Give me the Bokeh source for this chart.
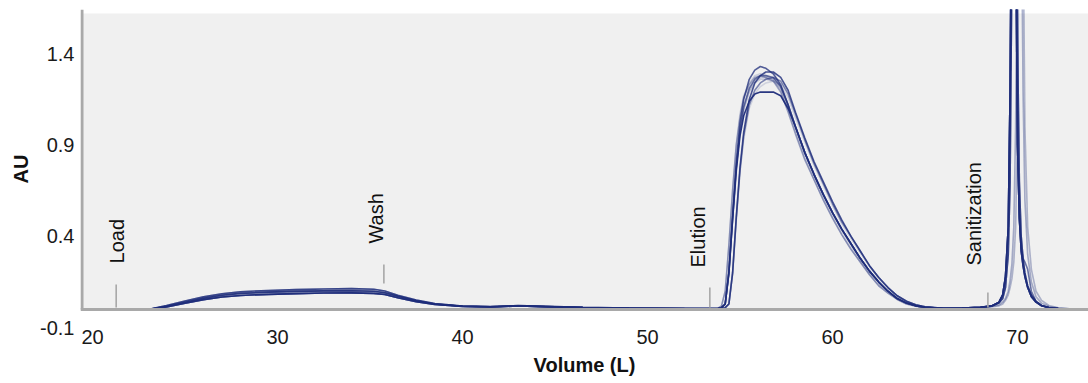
import math
from bokeh.plotting import figure
from bokeh.models import Range1d, FixedTicker, Span, BoxAnnotation
from bokeh.embed import file_html
from bokeh.resources import INLINE
from bokeh.core.properties import value

# ---------------- data ----------------
VOLUME = [
    23.0, 24.0, 25.0, 26.0, 27.0, 28.0, 29.5, 31.0, 32.5, 34.0,
    35.2, 35.8, 36.5, 37.5, 38.5, 40.0, 41.5, 43.0, 44.5, 46.5,
    49.0, 52.0, 53.8, 54.0, 54.2, 54.4, 54.6, 54.8, 55.0, 55.2,
    55.5, 55.8, 56.1, 56.4, 56.8, 57.2, 57.6, 58.0, 58.5, 59.0,
    59.5, 60.0, 60.5, 61.0, 61.5, 62.0, 62.5, 63.0, 63.5, 64.0,
    64.5, 65.0, 66.0, 67.0, 68.0, 68.6, 69.0, 69.2, 69.35, 69.5,
    69.6, 69.7, 69.8, 69.9, 70.0, 70.1, 70.2, 70.3, 70.4, 70.55,
    70.75, 71.0, 71.3, 71.7, 72.2, 72.8,
]

RUN_01 = [
    0.0, 0.014, 0.034, 0.054, 0.068, 0.077, 0.083, 0.087, 0.09, 0.091, 0.088, 0.082, 0.064, 0.043, 0.027, 0.017, 0.014, 0.019, 0.015, 0.01, 0.007, 0.005,
    0.005, 0.01, 0.03, 0.2, 0.49, 0.76, 0.95, 1.06, 1.14, 1.18, 1.19, 1.19, 1.19, 1.17, 1.1, 1.0, 0.86, 0.74, 0.63, 0.53, 0.44, 0.36, 0.28, 0.21, 0.15, 0.1, 0.06, 0.035, 0.02, 0.012, 0.006,
    0.008, 0.012, 0.02, 0.04, 0.08, 0.18, 0.45, 1.2, 2.6, 3.0, 2.2, 0.9, 0.5, 0.32, 0.24, 0.18, 0.12, 0.07, 0.04, 0.02, 0.01, 0.005, 0.003,
]
RUN_02 = [
    0.0, 0.018, 0.04, 0.062, 0.078, 0.088, 0.095, 0.099, 0.102, 0.103, 0.1, 0.092, 0.072, 0.048, 0.03, 0.018, 0.015, 0.02, 0.016, 0.011, 0.008, 0.005,
    0.005, 0.01, 0.03, 0.21, 0.52, 0.81, 1.02, 1.15, 1.26, 1.31, 1.33, 1.32, 1.29, 1.23, 1.12, 1.0, 0.86, 0.74, 0.63, 0.53, 0.44, 0.36, 0.28, 0.21, 0.15, 0.1, 0.06, 0.035, 0.02, 0.012, 0.006,
    0.008, 0.012, 0.018, 0.035, 0.06, 0.12, 0.3, 0.7, 1.9, 2.9, 2.7, 1.5, 0.7, 0.4, 0.28, 0.2, 0.13, 0.08, 0.045, 0.022, 0.011, 0.005, 0.003,
]
RUN_03 = [
    0.0, 0.022, 0.046, 0.069, 0.086, 0.097, 0.104, 0.109, 0.112, 0.114, 0.111, 0.101, 0.078, 0.052, 0.032, 0.019, 0.016, 0.021, 0.017, 0.012, 0.008, 0.005,
    0.004, 0.006, 0.01, 0.03, 0.2, 0.51, 0.78, 0.97, 1.15, 1.24, 1.28, 1.3, 1.3, 1.27, 1.2, 1.08, 0.94, 0.81, 0.7, 0.59, 0.49, 0.4, 0.32, 0.24, 0.175, 0.12, 0.075, 0.045, 0.026, 0.015, 0.007,
    0.008, 0.012, 0.02, 0.04, 0.08, 0.18, 0.45, 1.2, 2.6, 3.0, 2.2, 0.9, 0.5, 0.32, 0.24, 0.18, 0.12, 0.07, 0.04, 0.02, 0.01, 0.005, 0.003,
]
RUN_04 = [
    0.0, 0.018, 0.04, 0.062, 0.078, 0.088, 0.095, 0.099, 0.102, 0.103, 0.1, 0.092, 0.072, 0.048, 0.03, 0.018, 0.015, 0.02, 0.016, 0.011, 0.008, 0.005,
    0.005, 0.01, 0.03, 0.2, 0.5, 0.78, 0.98, 1.11, 1.21, 1.26, 1.28, 1.28, 1.27, 1.22, 1.12, 1.0, 0.86, 0.74, 0.63, 0.53, 0.44, 0.36, 0.28, 0.21, 0.15, 0.1, 0.06, 0.035, 0.02, 0.012, 0.006,
    0.008, 0.012, 0.02, 0.04, 0.08, 0.18, 0.45, 1.2, 2.6, 3.0, 2.2, 0.9, 0.5, 0.34, 0.28, 0.26, 0.22, 0.1, 0.045, 0.022, 0.011, 0.005, 0.003,
]
RUN_05 = [
    0.0, 0.014, 0.034, 0.054, 0.068, 0.077, 0.083, 0.087, 0.09, 0.091, 0.088, 0.082, 0.064, 0.043, 0.027, 0.017, 0.014, 0.019, 0.015, 0.01, 0.007, 0.005,
    0.004, 0.006, 0.01, 0.03, 0.2, 0.5, 0.76, 0.95, 1.12, 1.2, 1.24, 1.26, 1.27, 1.25, 1.18, 1.07, 0.93, 0.8, 0.69, 0.58, 0.48, 0.4, 0.32, 0.24, 0.175, 0.12, 0.075, 0.045, 0.026, 0.015, 0.007,
    0.008, 0.012, 0.018, 0.035, 0.06, 0.12, 0.3, 0.7, 1.9, 2.9, 2.7, 1.5, 0.7, 0.4, 0.28, 0.2, 0.13, 0.08, 0.045, 0.022, 0.011, 0.005, 0.003,
]
RUN_06 = [
    0.0, 0.022, 0.046, 0.069, 0.086, 0.097, 0.104, 0.109, 0.112, 0.114, 0.111, 0.101, 0.078, 0.052, 0.032, 0.019, 0.016, 0.021, 0.017, 0.012, 0.008, 0.005,
    0.005, 0.01, 0.03, 0.2, 0.5, 0.78, 0.97, 1.09, 1.19, 1.24, 1.26, 1.26, 1.25, 1.21, 1.11, 0.99, 0.85, 0.73, 0.62, 0.52, 0.43, 0.35, 0.27, 0.2, 0.145, 0.097, 0.058, 0.034, 0.02, 0.012, 0.006,
    0.008, 0.01, 0.015, 0.02, 0.03, 0.05, 0.08, 0.12, 0.17, 0.26, 0.45, 1.0, 2.4, 3.0, 2.2, 1.0, 0.45, 0.22, 0.1, 0.05, 0.022, 0.01, 0.004,
]
RUN_07 = [
    0.0, 0.018, 0.04, 0.062, 0.078, 0.088, 0.095, 0.099, 0.102, 0.103, 0.1, 0.092, 0.072, 0.048, 0.03, 0.018, 0.015, 0.02, 0.016, 0.011, 0.008, 0.005,
    0.006, 0.02, 0.1, 0.36, 0.66, 0.91, 1.07, 1.17, 1.24, 1.28, 1.29, 1.28, 1.26, 1.2, 1.09, 0.97, 0.83, 0.71, 0.6, 0.5, 0.41, 0.33, 0.26, 0.19, 0.13, 0.09, 0.055, 0.03, 0.018, 0.011, 0.005,
    0.008, 0.01, 0.016, 0.025, 0.04, 0.06, 0.1, 0.16, 0.25, 0.45, 1.0, 2.3, 3.0, 2.4, 1.2, 0.6, 0.3, 0.15, 0.07, 0.035, 0.016, 0.008, 0.004,
]
RUN_08 = [
    0.0, 0.022, 0.046, 0.069, 0.086, 0.097, 0.104, 0.109, 0.112, 0.114, 0.111, 0.101, 0.078, 0.052, 0.032, 0.019, 0.016, 0.021, 0.017, 0.012, 0.008, 0.005,
    0.004, 0.006, 0.01, 0.03, 0.19, 0.49, 0.75, 0.93, 1.1, 1.18, 1.22, 1.24, 1.25, 1.23, 1.16, 1.05, 0.92, 0.79, 0.68, 0.57, 0.47, 0.39, 0.31, 0.235, 0.17, 0.115, 0.072, 0.043, 0.025, 0.014, 0.007,
    0.008, 0.01, 0.015, 0.02, 0.03, 0.05, 0.08, 0.12, 0.17, 0.26, 0.45, 1.0, 2.4, 3.0, 2.2, 1.0, 0.45, 0.22, 0.1, 0.05, 0.022, 0.01, 0.004,
]
RUN_09 = [
    0.0, 0.018, 0.04, 0.062, 0.078, 0.088, 0.095, 0.099, 0.102, 0.103, 0.1, 0.092, 0.072, 0.048, 0.03, 0.018, 0.015, 0.02, 0.016, 0.011, 0.008, 0.005,
    0.005, 0.01, 0.03, 0.2, 0.5, 0.78, 0.98, 1.1, 1.2, 1.25, 1.27, 1.27, 1.26, 1.22, 1.12, 1.0, 0.86, 0.74, 0.63, 0.53, 0.44, 0.36, 0.28, 0.21, 0.15, 0.1, 0.06, 0.035, 0.02, 0.012, 0.006,
    0.008, 0.01, 0.016, 0.025, 0.04, 0.06, 0.1, 0.16, 0.25, 0.45, 1.0, 2.3, 3.0, 2.4, 1.2, 0.6, 0.3, 0.15, 0.07, 0.035, 0.016, 0.008, 0.004,
]
RUN_10 = [
    0.0, 0.014, 0.034, 0.054, 0.068, 0.077, 0.083, 0.087, 0.09, 0.091, 0.088, 0.082, 0.064, 0.043, 0.027, 0.017, 0.014, 0.019, 0.015, 0.01, 0.007, 0.005,
    0.006, 0.02, 0.1, 0.35, 0.65, 0.9, 1.05, 1.16, 1.23, 1.27, 1.28, 1.27, 1.25, 1.19, 1.08, 0.96, 0.82, 0.71, 0.6, 0.5, 0.41, 0.33, 0.26, 0.19, 0.13, 0.09, 0.055, 0.03, 0.018, 0.011, 0.005,
    0.008, 0.012, 0.02, 0.04, 0.08, 0.18, 0.45, 1.2, 2.6, 3.0, 2.2, 0.9, 0.5, 0.32, 0.24, 0.18, 0.12, 0.07, 0.04, 0.02, 0.01, 0.005, 0.003,
]

RUNS = [RUN_01, RUN_02, RUN_03, RUN_04, RUN_05, RUN_06, RUN_07, RUN_08, RUN_09, RUN_10]
RUN_ALPHA = [0.95, 0.75, 0.8, 0.65, 0.55, 0.2, 0.18, 0.15, 0.22, 0.4]

EVENT_NAMES = ["Load", "Wash", "Elution", "Sanitization"]
EVENT_VOLUME = [21.28, 35.75, 53.37, 68.4]
EVENT_TICK_LOW = [0.011, 0.142, 0.011, 0.011]
EVENT_TICK_HIGH = [0.137, 0.246, 0.12, 0.093]
EVENT_LABEL_VOLUME = [21.3, 35.35, 52.73, 67.65]
EVENT_LABEL_AU = [0.252, 0.361, 0.23, 0.241]

X_TICKS = [20, 30, 40, 50, 60, 70]
Y_TICKS = [-0.1, 0.4, 0.9, 1.4]
Y_TICK_LABELS = {-0.1: "-0.1", 0.4: "0.4", 0.9: "0.9", 1.4: "1.4"}
X_START, X_END = 19.351, 73.838
Y_START, Y_END = -0.104, 1.642
PANEL_TOP = 1.62

for r in RUNS:
    assert len(r) == len(VOLUME)

NAVY = "#1d2c7a"
AXIS_GREY = "#a9a9a9"
FONT = "Liberation Sans"

# ---------------- figure ----------------
p = figure(
    width=1088, height=383,
    x_range=Range1d(X_START, X_END), y_range=Range1d(Y_START, Y_END),
    output_backend="svg", toolbar_location=None,
    min_border_left=80, min_border_right=0, min_border_top=9, min_border_bottom=55,
    background_fill_color="white", border_fill_color="white",
    outline_line_color=None,
)
p.grid.visible = False

# grey plotting panel above zero
p.add_layout(BoxAnnotation(bottom=0, top=PANEL_TOP, fill_color="#f0f0f0", fill_alpha=1.0,
                           line_color=None, level="underlay"))

for ax in (p.xaxis[0], p.yaxis[0]):
    ax.axis_line_color = None
    ax.major_tick_line_color = None
    ax.minor_tick_line_color = None
    ax.major_tick_in = 0
    ax.major_tick_out = 0
    ax.minor_tick_in = 0
    ax.minor_tick_out = 0
    ax.major_label_text_font = FONT
    ax.major_label_text_font_size = "20px"
    ax.major_label_text_color = "#1a1a1a"
    ax.axis_label_text_font = FONT
    ax.axis_label_text_font_size = "20px"
    ax.axis_label_text_font_style = "bold"
    ax.axis_label_text_color = "#111111"

p.xaxis.ticker = FixedTicker(ticks=X_TICKS)
p.yaxis.ticker = FixedTicker(ticks=Y_TICKS)
p.yaxis.major_label_overrides = Y_TICK_LABELS
p.xaxis.major_label_standoff = 1
p.yaxis.major_label_standoff = 6
p.xaxis.axis_label = "Volume (L)"
p.yaxis.axis_label = "AU"
p.xaxis.axis_label_standoff = 7
p.yaxis.axis_label_standoff = 5

# runs, lightest first
order = sorted(range(len(RUNS)), key=lambda i: RUN_ALPHA[i])
for i in order:
    p.line(VOLUME, RUNS[i], line_color=NAVY, line_alpha=RUN_ALPHA[i], line_width=1.6)

# axis lines (drawn at zero / left edge)
p.segment(x0=[19.432], y0=[0], x1=[19.432], y1=[Y_END], line_color=AXIS_GREY, line_width=3)
p.add_layout(Span(location=0, dimension="width", line_color=AXIS_GREY, line_width=3))

# event markers
p.segment(x0=EVENT_VOLUME, y0=EVENT_TICK_LOW, x1=EVENT_VOLUME, y1=EVENT_TICK_HIGH,
          line_color="#a8a8a8", line_width=1.6)
p.text(x=EVENT_LABEL_VOLUME, y=EVENT_LABEL_AU, text=EVENT_NAMES, angle=math.pi / 2,
       text_align="left", text_baseline="middle", text_font=value(FONT),
       text_font_size="20px", text_color="#111111")

open("out.html", "w").write(file_html(p, INLINE))
